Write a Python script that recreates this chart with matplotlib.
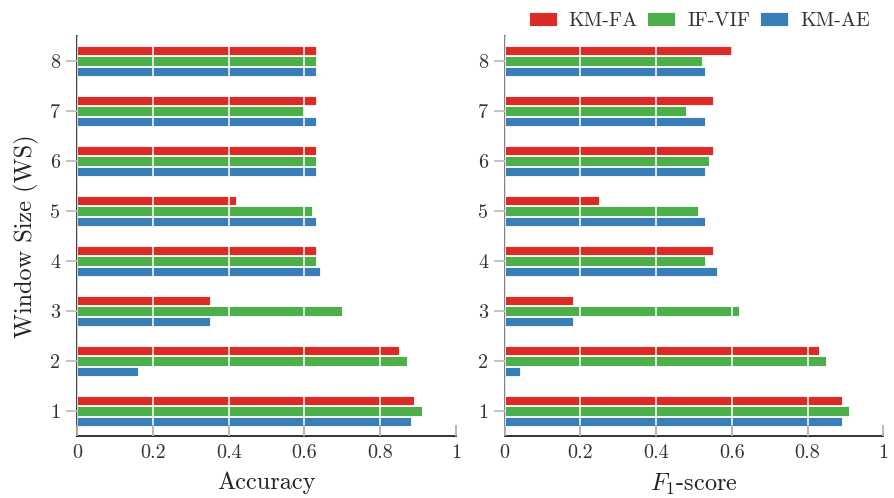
import numpy as np
import matplotlib
matplotlib.use("Agg")
import matplotlib.pyplot as plt

plt.rcParams['font.family'] = ['cmr10', 'DejaVu Serif']
plt.rcParams['mathtext.fontset'] = 'cm'
plt.rcParams['axes.unicode_minus'] = False

window_sizes = [1, 2, 3, 4, 5, 6, 7, 8]
methods = ['KM-FA', 'IF-VIF', 'KM-AE']
colors = ['#dc2a27', '#4daf4a', '#3a7eb8']

acc_km_fa = [0.89, 0.85, 0.35, 0.63, 0.42, 0.63, 0.63, 0.63]
acc_if_vif = [0.91, 0.87, 0.70, 0.63, 0.62, 0.63, 0.60, 0.63]
acc_km_ae = [0.88, 0.16, 0.35, 0.64, 0.63, 0.63, 0.63, 0.63]

f1_km_fa = [0.89, 0.83, 0.18, 0.55, 0.25, 0.55, 0.55, 0.60]
f1_if_vif = [0.91, 0.85, 0.62, 0.53, 0.51, 0.54, 0.48, 0.52]
f1_km_ae = [0.89, 0.04, 0.18, 0.56, 0.53, 0.53, 0.53, 0.53]

x_ticks = [0, 0.2, 0.4, 0.6, 0.8, 1.0]
x_ticklabels = ['0', '0.2', '0.4', '0.6', '0.8', '1']

fig = plt.figure(figsize=(8.94, 4.98), dpi=100)
ax1 = fig.add_axes([0.0861, 0.1245, 0.424, 0.8035])
ax2 = fig.add_axes([0.5645, 0.1245, 0.4235, 0.8035])

y = np.array(window_sizes)
offsets = [0.21, 0.0, -0.21]
h = 0.19

def draw(ax, series, xlabel, spine_color):
    for vals, off, c, lab in zip(series, offsets, colors, methods):
        ax.barh(y + off, vals, height=h, color=c, edgecolor='white',
                linewidth=0.6, label=lab, zorder=2)
    ax.set_xlim(0, 1)
    ax.set_ylim(0.5, 8.5)
    ax.set_yticks(window_sizes)
    ax.set_yticklabels([str(w) for w in window_sizes])
    ax.set_xticks(x_ticks)
    ax.set_xticklabels(x_ticklabels)
    ax.grid(axis='x', color='white', linewidth=1.1, zorder=3)
    ax.set_axisbelow(False)
    for s in ['top', 'right']:
        ax.spines[s].set_visible(False)
    ax.spines['left'].set_color(spine_color)
    ax.spines['left'].set_linewidth(1.3)
    ax.spines['bottom'].set_color('#222222')
    ax.spines['bottom'].set_linewidth(1.3)
    ax.tick_params(axis='x', direction='in', length=8, width=1.2,
                   color='#aaaaaa', labelsize=14.5, labelcolor='#333333', pad=6)
    ax.tick_params(axis='y', direction='out', length=8, width=1.2,
                   color='#bbbbbb', labelsize=14.5, labelcolor='#333333', pad=4)
    ax.set_xlabel(xlabel, fontsize=17.5, color='#222222', labelpad=7)

draw(ax1, [acc_km_fa, acc_if_vif, acc_km_ae], 'Accuracy', '#333333')
draw(ax2, [f1_km_fa, f1_if_vif, f1_km_ae], '$F_1$-score', '#777777')
ax1.set_ylabel('Window Size (WS)', fontsize=17.5, color='#222222', labelpad=8)

handles, labels = ax2.get_legend_handles_labels()
fig.legend(handles, labels, loc='upper right', bbox_to_anchor=(0.993, 1.012),
           ncol=3, frameon=False, fontsize=14.5, handlelength=1.4,
           handleheight=0.65, columnspacing=0.45, handletextpad=0.6,
           labelcolor='#333333')

fig.savefig('out.png', dpi=100)
